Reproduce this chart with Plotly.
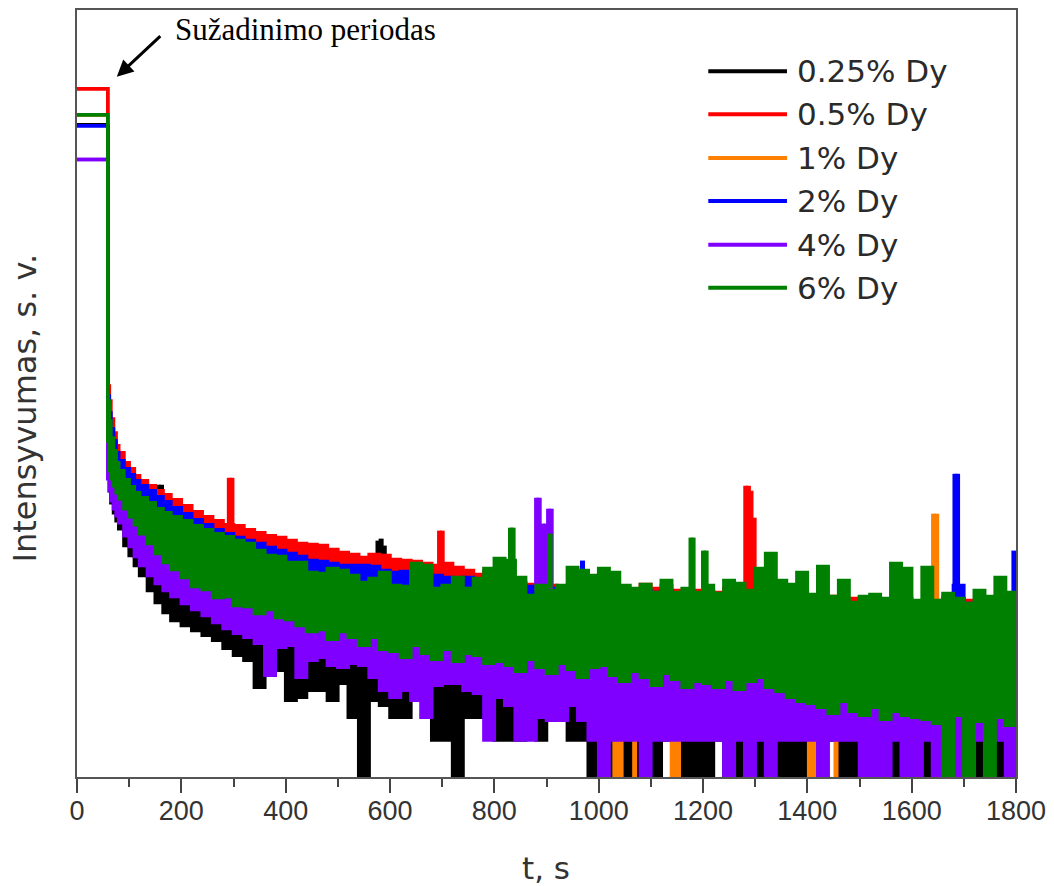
import plotly.graph_objects as go

# ---- time grids (s) ----
t = [0, 58, 59, 62, 65, 70, 75, 80, 90, 100, 110, 120, 135, 150, 165, 180] + list(range(200, 1801, 20))
t_c = [0, 58, 59, 62, 65, 70, 75, 80, 90, 100, 120, 150, 200] + list(range(300, 1801, 100))

# ---- intensity envelopes (a.u.), upper / lower edge of each noisy decay trace ----
red_hi = [690, 690, 392, 377, 359, 345, 332, 325, 315, 309, 302, 297, 292, 287, 283, 278,
          272, 266, 261, 257, 253, 252, 248, 245, 242, 240,
          237, 234, 233, 232, 228, 225, 223, 220, 223, 222,
          218, 217, 216, 214, 212, 214, 210, 207, 203, 206,
          199, 197, 195, 193, 192, 192, 189, 192, 191, 189,
          187, 192, 189, 186, 193, 189, 192, 187, 185, 187,
          187, 185, 189, 185, 187, 186, 184, 185, 182, 183,
          181, 179, 181, 177, 179, 180, 177, 175, 177, 179,
          174, 172, 177, 180, 179, 177, 175, 174, 172, 174,
          174]
red_lo = [690, 690, 337, 322, 309, 297, 289, 282, 270, 259, 244, 227, 207, 185, 172, 157,
          142, 142, 132, 127, 112, 112, 112, 112, 107, 107, 107, 102, 102]

blue_hi = [653, 653, 382, 365, 349, 337, 325, 317, 309, 303, 297, 292, 287, 281, 276, 270,
           264, 258, 253, 248, 244, 240, 237, 234, 230, 227,
           224, 221, 217, 216, 214, 212, 212, 212, 211, 207,
           205, 206, 203, 203, 202, 200, 199, 200, 197, 197,
           195, 193, 192, 191, 189, 189, 187, 189, 187, 185,
           184, 185, 183, 181, 187, 185, 187, 183, 181, 183,
           182, 180, 183, 181, 182, 181, 179, 180, 177, 179,
           175, 174, 176, 172, 173, 176, 172, 170, 172, 174,
           170, 167, 173, 177, 192, 174, 171, 171, 169, 175,
           175]
blue_lo = [653, 653, 345, 329, 317, 307, 297, 289, 279, 267, 252, 237, 217, 197, 182, 167,
           152, 152, 142, 137, 127, 127, 125, 129, 117, 117, 117, 112, 112]

green_hi = [664, 664, 377, 357, 340, 327, 315, 307, 298, 291, 285, 280, 275, 269, 265, 261,
            257, 252, 248, 244, 241, 237, 234, 227, 222, 221,
            215, 215, 205, 204, 209, 207, 202, 195, 199, 205,
            192, 191, 214, 212, 189, 192, 200, 189, 199, 209,
            219, 217, 200, 182, 192, 187, 192, 210, 207, 202,
            209, 205, 192, 189, 193, 185, 197, 185, 189, 185,
            192, 184, 197, 194, 187, 209, 224, 197, 193, 205,
            183, 211, 181, 197, 175, 181, 183, 179, 214, 209,
            177, 210, 177, 184, 179, 174, 187, 181, 200, 185,
            177]
green_lo = [664, 664, 337, 307, 299, 292, 285, 279, 269, 261, 253, 244, 234, 224, 215, 208,
            200, 191, 188, 180, 181, 172, 171, 164, 168, 160,
            158, 152, 146, 148, 138, 146, 140, 132, 140, 128,
            126, 120, 132, 124, 118, 128, 116, 124, 122, 114,
            116, 112, 106, 118, 110, 104, 114, 108, 100, 110,
            112, 102, 96, 106, 100, 92, 104, 98, 90, 96,
            94, 90, 98, 88, 96, 100, 90, 86, 80, 76,
            74, 70, 64, 76, 66, 62, 70, 58, 66, 62,
            60, 58, 54, 0, 62, 0, 56, 0, 60, 52,
            58]

purple_hi = [619, 619, 357, 332, 319, 309, 299, 292, 282, 272, 259, 242, 221, 199, 187,
             172, 162, 157, 152, 149, 147, 142, 139, 142, 122, 122, 117, 112, 112]
purple_lo = [619, 619, 299, 287, 277, 269, 262, 255, 242, 231, 221, 212, 202, 194, 187, 181,
             174, 168, 162, 155, 149, 144, 140, 134, 102, 130,
             132, 100, 117, 120, 112, 110, 114, 112, 100, 87,
             80, 87, 77, 60, 92, 94, 94, 87, 84, 37,
             80, 72, 37, 37, 60, 57, 57, 72, 57, 37,
             0, 37, 37, 37, 0, 37, 37, 37, 37, 37,
             37, 37, 0, 37, 0, 37, 0, 37, 37, 37,
             37, 0, 37, 37, 37, 0, 0, 0, 37, 0,
             0, 37, 0, 37, 0, 37, 37, 37, 37, 0,
             0]

black_hi = [654, 654, 327, 312, 302, 289, 282, 272, 262, 252, 237, 217, 197, 177, 162,
            147, 127, 127, 117, 107, 87, 87, 87, 87, 77, 77, 77, 77, 77]
black_lo = [654, 654, 307, 287, 275, 265, 257, 249, 232, 222, 212, 202, 187, 175, 165, 157,
            152, 147, 142, 137, 129, 122, 117, 90, 102, 107,
            77, 80, 87, 87, 77, 94, 60, 0, 77, 72,
            60, 60, 77, 60, 37, 37, 0, 60, 60, 60,
            37, 37, 37, 60, 37, 57, 57, 37, 37, 0,
            37, 0, 0, 0, 37, 0, 37, 37, 0, 0,
            0, 37, 0, 0, 0, 0, 37, 0, 0, 0,
            37, 37, 37, 0, 0, 37, 37, 37, 0, 37,
            37, 0, 37, 37, 0, 0, 0, 37, 0, 37,
            37]

orange_hi = [664, 664, 371, 351, 334, 321, 309, 301, 292, 279, 269, 255, 235, 215, 197,
             189, 183, 183, 176, 181, 183, 179, 178, 187, 169, 173, 171, 168, 168]
orange_lo = [664, 664, 332, 317, 305, 293, 285, 277, 265, 253, 237, 221, 199, 177, 162,
             147, 132, 132, 122, 117, 102, 102, 102, 102, 97, 97, 97, 92, 92]

# ---- isolated bursts: time (s), level it rises from, peak level ----
black_sp_t = [156, 162, 577, 583, 589]
black_sp_lo = [262, 262, 212, 212, 212]
black_sp_hi = [293, 293, 237, 239, 232]

red_sp_t = [292, 297, 695, 700, 1282, 1287, 1292, 1298]
red_sp_lo = [247, 247, 207, 207, 182, 182, 182, 182]
red_sp_hi = [300, 300, 247, 247, 292, 292, 287, 260]

orange_sp_t = [1642, 1648, 1031, 1037, 1043, 1069, 1141, 1147, 1153, 1404, 1410, 1416, 1455]
orange_sp_lo = [177, 177, 0, 0, 0, 0, 0, 0, 0, 0, 0, 0, 0]
orange_sp_hi = [264, 264, 37, 37, 37, 37, 37, 37, 37, 37, 37, 37, 37]

blue_sp_t = [969, 1683, 1688, 1796]
blue_sp_lo = [185, 187, 187, 175]
blue_sp_hi = [217, 304, 304, 227]

purple_sp_t = [881, 886, 893, 898, 904, 909]
purple_sp_lo = [187, 187, 187, 187, 187, 187]
purple_sp_hi = [280, 280, 254, 254, 269, 269]

green_sp_t = [831, 836, 907, 1177, 1181, 1201, 1206]
green_sp_lo = [202, 202, 189, 185, 185, 189, 189]
green_sp_hi = [250, 250, 244, 240, 240, 227, 227]

labels = ["0.25% Dy", "0.5% Dy", "1% Dy", "2% Dy", "4% Dy", "6% Dy"]
colors = ["#000000", "#FF0000", "#FF8000", "#0000FF", "#8000FF", "#008000"]

series = [
    (t_c, black_hi, t, black_lo, black_sp_t, black_sp_lo, black_sp_hi),
    (t, red_hi, t_c, red_lo, red_sp_t, red_sp_lo, red_sp_hi),
    (t_c, orange_hi, t_c, orange_lo, orange_sp_t, orange_sp_lo, orange_sp_hi),
    (t, blue_hi, t_c, blue_lo, blue_sp_t, blue_sp_lo, blue_sp_hi),
    (t_c, purple_hi, t, purple_lo, purple_sp_t, purple_sp_lo, purple_sp_hi),
    (t, green_hi, t, green_lo, green_sp_t, green_sp_lo, green_sp_hi),
]

fig = go.Figure()

for (x_hi, y_hi, x_lo, y_lo, sp_t, sp_lo, sp_hi), name, col in zip(series, labels, colors):
    fig.add_trace(go.Scatter(x=x_lo, y=y_lo, mode="lines", name=name,
                             line=dict(color=col, width=3.5, shape="hv"),
                             showlegend=False, hoverinfo="skip"))
    fig.add_trace(go.Scatter(x=x_hi, y=y_hi, mode="lines", name=name,
                             line=dict(color=col, width=3.5, shape="hv"),
                             fill="tonexty", fillcolor=col,
                             showlegend=False, hoverinfo="skip"))
    xs, ys = [], []
    for ts, a, b in zip(sp_t, sp_lo, sp_hi):
        xs += [ts, ts, None]
        ys += [a, b, None]
    fig.add_trace(go.Scatter(x=xs, y=ys, mode="lines", name=name,
                             line=dict(color=col, width=5),
                             showlegend=False, hoverinfo="skip"))

# ---- legend drawn as line samples with labels ----
row_y = [0.920, 0.864, 0.807, 0.751, 0.694, 0.638]
for name, col, yy in zip(labels, colors, row_y):
    fig.add_shape(type="line", xref="paper", yref="paper",
                  x0=0.6723, x1=0.7561, y0=yy, y1=yy,
                  line=dict(color=col, width=4))
    fig.add_annotation(xref="paper", yref="paper", x=0.7646, y=yy,
                       text=name, showarrow=False, xanchor="left", yanchor="middle",
                       font=dict(family="DejaVu Sans", size=31, color="#2a2a2a"))

# ---- excitation-period note with arrow ----
fig.add_annotation(xref="paper", yref="paper", x=0.0424, y=0.9129, text="",
                   showarrow=True, ax=45, ay=-42, arrowhead=2, arrowsize=1.1,
                   arrowwidth=3, arrowcolor="#000000", standoff=0)
fig.add_annotation(xref="paper", yref="paper", x=0.1018, y=0.974,
                   text="Sužadinimo periodas", showarrow=False,
                   xanchor="left", yanchor="middle",
                   font=dict(family="Liberation Serif", size=31, color="#000000"))

# ---- axis titles ----
fig.add_annotation(xref="paper", yref="paper", x=-0.055, y=0.481,
                   text="Intensyvumas, s. v.", showarrow=False, textangle=-90,
                   xanchor="center", yanchor="middle",
                   font=dict(family="DejaVu Sans", size=32, color="#333333"))
fig.add_annotation(xref="paper", yref="paper", x=0.4995, y=-0.1183,
                   text="t, s", showarrow=False, xanchor="center", yanchor="middle",
                   font=dict(family="DejaVu Sans", size=31, color="#333333"))

fig.update_xaxes(range=[0, 1800], tickmode="linear", tick0=0, dtick=200,
                 ticks="outside", ticklen=14, tickwidth=2, tickcolor="#444444",
                 minor=dict(dtick=100, ticks="outside", ticklen=8, tickwidth=2,
                            tickcolor="#444444"),
                 showline=True, linecolor="#555555", linewidth=2, mirror=True,
                 showgrid=False, zeroline=False, ticklabelstandoff=-5,
                 tickfont=dict(family="Liberation Sans", size=27, color="#333333"))
fig.update_yaxes(range=[0, 769], showline=True, linecolor="#555555", linewidth=2,
                 mirror=True, showgrid=False, zeroline=False, ticks="",
                 showticklabels=False)

fig.update_layout(width=1054, height=886,
                  margin=dict(l=77, r=34, t=8, b=109),
                  plot_bgcolor="#FFFFFF", paper_bgcolor="#FFFFFF",
                  showlegend=False)

fig.write_html("out.html")
